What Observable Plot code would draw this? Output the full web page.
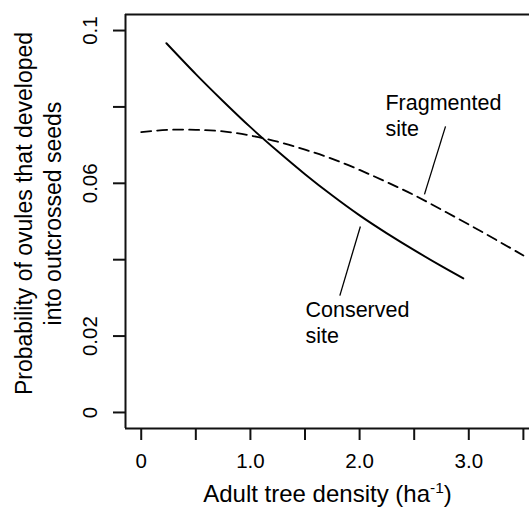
<!DOCTYPE html>
<html>
<head>
<meta charset="utf-8">
<script src="https://cdn.jsdelivr.net/npm/d3@7"></script>
<script src="https://cdn.jsdelivr.net/npm/@observablehq/plot@0.6"></script>
<style>
  html, body { margin: 0; padding: 0; background: #fff; }
  svg { display: block; }
</style>
</head>
<body>
<script>
// ---- data ----
const conservedX = [0.23, 0.5, 0.75, 1.0, 1.25, 1.5, 1.75, 2.0, 2.25, 2.5, 2.75, 2.95];
const conservedY = [0.0967, 0.0886, 0.0815, 0.0747, 0.0684, 0.0624, 0.0568, 0.0516, 0.0469, 0.0425, 0.0383, 0.0351];
const fragmentedX = [0, 0.25, 0.5, 0.75, 1.0, 1.25, 1.5, 1.75, 2.0, 2.25, 2.5, 2.75, 3.0, 3.25, 3.5];
const fragmentedY = [0.0734, 0.0740, 0.0740, 0.0736, 0.0725, 0.0709, 0.0688, 0.0664, 0.0635, 0.0603, 0.0569, 0.0531, 0.0492, 0.0452, 0.0411];

const xTicks = [0, 0.5, 1.0, 1.5, 2.0, 2.5, 3.0, 3.5];
const xTickLabels = ["0", "", "1.0", "", "2.0", "", "3.0", ""];
const yTicks = [0, 0.02, 0.04, 0.06, 0.08, 0.1];
const yTickLabels = ["0", "0.02", "", "0.06", "", "0.1"];

const xTitle = "Adult tree density (ha-1)";
const yTitle = "Probability of ovules that developed\ninto outcrossed seeds";
const labelFragmented = "Fragmented\nsite";
const labelConserved = "Conserved\nsite";

// ---- build tables ----
const conserved = conservedX.map((x, i) => ({x, y: conservedY[i]}));
const fragmented = fragmentedX.map((x, i) => ({x, y: fragmentedY[i]}));
const xLab = new Map(xTicks.map((t, i) => [t, xTickLabels[i]]));
const yLab = new Map(yTicks.map((t, i) => [t, yTickLabels[i]]));

const xDomain = [-0.144, 3.556];
const yDomain = [-0.0042, 0.1042];
const font = "'Liberation Sans', Arial, Helvetica, sans-serif";

const svg = Plot.plot({
  width: 529,
  height: 508,
  marginLeft: 125,
  marginRight: 0,
  marginTop: 14,
  marginBottom: 80,
  x: {domain: xDomain},
  y: {domain: yDomain},
  style: {fontFamily: font, fontSize: "20px", background: "#fff", color: "#000", overflow: "visible"},
  marks: [
    // box (left, top, bottom)
    Plot.ruleX([xDomain[0]], {stroke: "#111", strokeWidth: 2}),
    Plot.ruleY([yDomain[0], yDomain[1]], {stroke: "#111", strokeWidth: 2}),
    // axes
    Plot.axisX(xTicks, {
      tickSize: 12, tickPadding: 12.7, strokeWidth: 2, stroke: "#111",
      tickFormat: d => xLab.get(d), label: null, fontSize: 20.5, fill: "#000"
    }),
    Plot.axisY(yTicks, {
      tickSize: 12, tickPadding: 17, tickRotate: -90, strokeWidth: 2, stroke: "#111",
      tickFormat: d => yLab.get(d), label: null, fontSize: 20.5, fill: "#000"
    }),
    // curves
    Plot.line(fragmented, {x: "x", y: "y", curve: "natural", stroke: "#000", strokeWidth: 1.8, strokeDasharray: "10,6"}),
    Plot.line(conserved, {x: "x", y: "y", curve: "natural", stroke: "#000", strokeWidth: 1.9}),
    // annotation pointers
    Plot.link([0], {x1: () => 2.787, y1: () => 0.0749, x2: () => 2.594, y2: () => 0.0571, stroke: "#000", strokeWidth: 1.3}),
    Plot.link([0], {x1: () => 2.007, y1: () => 0.0487, x2: () => 1.819, y2: () => 0.0306, stroke: "#000", strokeWidth: 1.3}),
    // annotation labels
    Plot.text([labelFragmented], {x: () => 2.237, y: () => 0.0723, text: d => d, textAnchor: "start", lineAnchor: "bottom", lineHeight: 1.21, fontSize: 21.5, fill: "#000"}),
    Plot.text([labelConserved], {x: () => 1.504, y: () => 0.0183, text: d => d, textAnchor: "start", lineAnchor: "bottom", lineHeight: 1.18, fontSize: 21.5, fill: "#000"}),
    // axis titles
    Plot.text([xTitle], {frameAnchor: "bottom", dy: 73, text: d => d, textAnchor: "middle", lineAnchor: "bottom", fontSize: 24, fill: "#000"}),
    Plot.text([yTitle], {frameAnchor: "left", dx: -65, dy: -8, rotate: -90, text: d => d, textAnchor: "middle", lineAnchor: "bottom", lineHeight: 1.22, fontSize: 23, fill: "#000"})
  ]
});

// superscript for the x-axis title
svg.querySelectorAll("text").forEach(t => {
  if (t.textContent === xTitle) {
    const ns = "http://www.w3.org/2000/svg";
    while (t.firstChild) t.removeChild(t.firstChild);
    t.appendChild(document.createTextNode("Adult tree density (ha"));
    const sup = document.createElementNS(ns, "tspan");
    sup.setAttribute("dy", "-9");
    sup.setAttribute("font-size", "15.5");
    sup.textContent = "-1";
    t.appendChild(sup);
    const close = document.createElementNS(ns, "tspan");
    close.setAttribute("dy", "9");
    close.textContent = ")";
    t.appendChild(close);
  }
});

document.body.appendChild(svg);
</script>
</body>
</html>
